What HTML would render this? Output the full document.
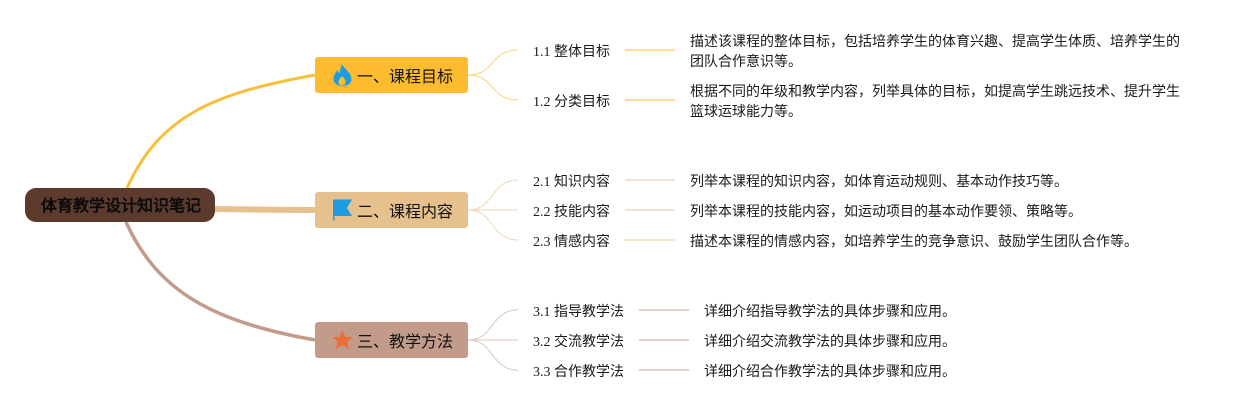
<!DOCTYPE html>
<html lang="zh"><head><meta charset="utf-8"><style>
html,body{margin:0;padding:0;background:#fff}
#c{position:relative;width:1250px;height:410px;overflow:hidden;font-family:"Liberation Serif","WenQuanYi Zen Hei",serif;color:#1a1a1a}
svg{position:absolute;left:0;top:0}
.t{position:absolute;white-space:nowrap;font-size:14px;line-height:20px}
.n{position:absolute;left:315px;width:153px;height:36px;border-radius:3px}
.m{position:absolute;left:357px;font-size:16px;line-height:24px;white-space:nowrap;color:#111}
</style></head><body><div id="c">
<svg width="1250" height="410" fill="none">
<path d="M127 188C160 115 215 93 315 75" stroke="#f7bf3b" stroke-width="3"/>
<path d="M215 209C250 209.500 280 210 315 210" stroke="#e6c18e" stroke-width="6"/>
<path d="M126 222C158 293 215 322 315 340" stroke="#c29b8b" stroke-width="3.500"/>
<g stroke="#fbd37a" stroke-width="1">
<path d="M468 75C495 75 490 50 518 50"/><path d="M468 75C495 75 490 100 518 100"/>
</g>
<g stroke="#eed6b4" stroke-width="1">
<path d="M468 210C495 210 490 180 518 180"/><path d="M468 210H518"/><path d="M468 210C495 210 490 240 518 240"/>
</g>
<g stroke="#dcc6bd" stroke-width="1">
<path d="M468 340C495 340 490 310 518 310"/><path d="M468 340H518"/><path d="M468 340C495 340 490 370 518 370"/>
</g>
<g stroke-width="2">
<path d="M625 50H675M625 100H675" stroke="#fcdd9e"/>
<path d="M625 180H675M625 210H675M625 240H675" stroke="#f3e4d0"/>
<path d="M639 310H689M639 340H689M639 370H689" stroke="#e0d3cd"/>
</g>
</svg>
<div style="position:absolute;left:25px;top:188px;width:190px;height:34px;border-radius:11px;background:#5c3a2e"></div>
<div style="position:absolute;left:41px;top:195px;font-size:16px;line-height:24px;font-weight:bold;color:#0a0a0a;white-space:nowrap">体育教学设计知识笔记</div>
<div class="n" style="top:57px;background:#fdbc2f"></div>
<div class="n" style="top:192px;background:#e6c18e"></div>
<div class="n" style="top:322px;background:#c29b8b"></div>
<svg width="1250" height="410">
<path d="M342 64C344 69 351 72 351.500 79C351.500 84 347 86 342 86C337 86 333 83 333.500 78C334 74 336 73 337 70C338 72 338.500 73 339.500 73C340 70 341 67 342 64Z" fill="#1f9be0"/>
<path d="M342 76C344 78 345.500 79.500 345.500 82C345.500 84.500 344 85.500 342 85.500C340 85.500 338.500 84.500 338.500 82C338.500 79.500 340.500 78 342 76Z" fill="#fdbc2f"/>
<path d="M333 199.500H352L347 208L352 216H334.500V220.500H333Z" fill="#1f9be0"/>
<path d="M342.500 331.500L345.300 337.500H351.500L346.800 341.600L348.500 348L342.500 344.500L336.500 348L338.200 341.600L333.500 337.500H339.700Z" fill="#ec6f3a" stroke="#ec6f3a" stroke-width="1" stroke-linejoin="round"/>
</svg>
<div class="m" style="top:66px">一、课程目标</div>
<div class="m" style="top:201px">二、课程内容</div>
<div class="m" style="top:331px">三、教学方法</div>
<div class="t" style="left:533px;top:43px">1.1 整体目标</div>
<div class="t" style="left:533px;top:93px">1.2 分类目标</div>
<div class="t" style="left:533px;top:173px">2.1 知识内容</div>
<div class="t" style="left:533px;top:203px">2.2 技能内容</div>
<div class="t" style="left:533px;top:233px">2.3 情感内容</div>
<div class="t" style="left:533px;top:303px">3.1 指导教学法</div>
<div class="t" style="left:533px;top:333px">3.2 交流教学法</div>
<div class="t" style="left:533px;top:363px">3.3 合作教学法</div>
<div class="t" style="left:690px;top:33px">描述该课程的整体目标，包括培养学生的体育兴趣、提高学生体质、培养学生的<br>团队合作意识等。</div>
<div class="t" style="left:690px;top:83px">根据不同的年级和教学内容，列举具体的目标，如提高学生跳远技术、提升学生<br>篮球运球能力等。</div>
<div class="t" style="left:690px;top:173px">列举本课程的知识内容，如体育运动规则、基本动作技巧等。</div>
<div class="t" style="left:690px;top:203px">列举本课程的技能内容，如运动项目的基本动作要领、策略等。</div>
<div class="t" style="left:690px;top:233px">描述本课程的情感内容，如培养学生的竞争意识、鼓励学生团队合作等。</div>
<div class="t" style="left:704px;top:303px">详细介绍指导教学法的具体步骤和应用。</div>
<div class="t" style="left:704px;top:333px">详细介绍交流教学法的具体步骤和应用。</div>
<div class="t" style="left:704px;top:363px">详细介绍合作教学法的具体步骤和应用。</div>
</div></body></html>
